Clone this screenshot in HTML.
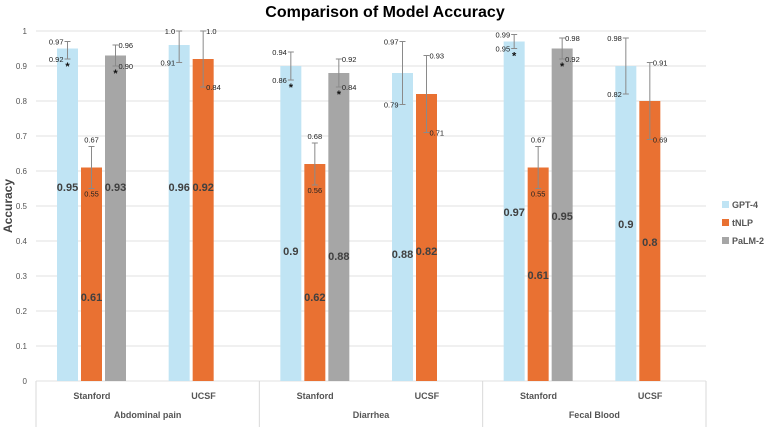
<!DOCTYPE html>
<html><head><meta charset="utf-8"><style>
body{margin:0;background:#fff;font-family:"Liberation Sans",sans-serif}
svg{display:block}
</style></head><body>
<svg id="c" width="767" height="427"></svg>
<script>
const groups=["Abdominal pain","Diarrhea","Fecal Blood"];
const sites=["Stanford","UCSF"];
const seriesNames=["GPT-4","tNLP","PaLM-2"];
const colors=["#c0e4f4","#e97132","#a6a6a6"];
const gpt=[0.95,0.96,0.90,0.88,0.97,0.90];
const tnlp=[0.61,0.92,0.62,0.82,0.61,0.80];
const palm=[0.93,null,0.88,null,0.95,null];
const gptLo=[0.92,0.91,0.86,0.79,0.95,0.82], gptHi=[0.97,1.0,0.94,0.97,0.99,0.98];
const tnlpLo=[0.55,0.84,0.56,0.71,0.55,0.69], tnlpHi=[0.67,1.0,0.68,0.93,0.67,0.91];
const palmLo=[0.90,null,0.84,null,0.92,null], palmHi=[0.96,null,0.92,null,0.98,null];
const gptLab=[0.554,0.554,0.371,0.363,0.483,0.449];
const tnlpLab=[0.24,0.554,0.24,0.371,0.303,0.397];
const palmLab=[0.554,null,0.357,null,0.471,null];
const stars=[[true,false,true,false,true,false],[false,false,false,false,false,false],[true,false,true,false,true,false]];
const loText=[["0.92","0.91","0.86","0.79","0.95","0.82"],["0.55","0.84","0.56","0.71","0.55","0.69"],["0.90","","0.84","","0.92",""]];
const hiText=[["0.97","1.0","0.94","0.97","0.99","0.98"],["0.67","1.0","0.68","0.93","0.67","0.91"],["0.96","","0.92","","0.98",""]];
const yTicks=[0,0.1,0.2,0.3,0.4,0.5,0.6,0.7,0.8,0.9,1];
const yTickLabels=["0","0.1","0.2","0.3","0.4","0.5","0.6","0.7","0.8","0.9","1"];

const NS="http://www.w3.org/2000/svg",svg=document.getElementById('c');
const X0=36,X1=706,Y0=381,Y1=31;
const y=v=>Y0-(v)*(Y0-Y1);
const sub=(X1-X0)/6;
const barX=(i,s)=>X0+i*sub+21+s*24;
function el(t,a,txt){const e=document.createElementNS(NS,t);for(const k in a)e.setAttribute(k,a[k]);if(txt!=null)e.textContent=txt;svg.appendChild(e);return e;}

let e=el('text',{x:385,y:17,'text-anchor':'middle','font-size':16,'font-weight':'bold',fill:'#000'},'Comparison of Model Accuracy');

e=el('text',{x:12,y:206,transform:'rotate(-90 12 206)','text-anchor':'middle','font-size':12,'font-weight':'bold',fill:'#444'},'Accuracy');

yTicks.forEach((t,i)=>{
  e=el('line',{x1:X0,x2:X1,y1:y(t),y2:y(t),stroke:'#e2e2e2'});
  
  e=el('text',{x:27,y:y(t)+3,'text-anchor':'end','font-size':8,fill:'#555'},yTickLabels[i]);
  
});
// category axis
[0,1,2,3].forEach(g=>{e=el('line',{x1:X0+g*2*sub,x2:X0+g*2*sub,y1:Y0,y2:427,stroke:'#d9d9d9'});
 });
for(let i=0;i<6;i++){
 e=el('text',{x:X0+i*sub+sub/2,y:Y0+18,'text-anchor':'middle','font-size':9,'font-weight':'bold',fill:'#555'},sites[i%2]);
 }
groups.forEach((g,i)=>{e=el('text',{x:X0+i*2*sub+sub,y:Y0+37,'text-anchor':'middle','font-size':9,'font-weight':'bold',fill:'#555'},g);
 });

const vals=[gpt,tnlp,palm],los=[gptLo,tnlpLo,palmLo],his=[gptHi,tnlpHi,palmHi],labs=[gptLab,tnlpLab,palmLab];
for(let s=0;s<3;s++)for(let i=0;i<6;i++){
 const v=vals[s][i];if(v==null)continue;
 const bx=barX(i,s),w=21,cx=bx+w/2;
 e=el('rect',{x:bx,y:y(v),width:w,height:Y0-y(v),fill:colors[s]});
 
 e=el('text',{x:cx,y:y(labs[s][i])+4,'text-anchor':'middle','font-size':11,'font-weight':'bold',fill:'#404040'},String(v));
 
 const lo=y(los[s][i]),hi=y(his[s][i]);
 e=el('path',{d:`M${cx},${lo}V${hi}M${cx-3},${lo}H${cx+3}M${cx-3},${hi}H${cx+3}`,stroke:'#8a8a8a','stroke-width':1,fill:'none'});
 
 let anchor,dx,dyH=3,dyL=3;
 if(s===0){anchor='end';dx=-4;} else if(s===1&&i%2===0){anchor='middle';dx=0;dyH=-4;dyL=8;} else {anchor='start';dx=3;}
 e=el('text',{x:cx+dx,y:hi+dyH,'text-anchor':anchor,'font-size':7.5,fill:'#222'},hiText[s][i]);
 
 e=el('text',{x:cx+dx,y:lo+dyL,'text-anchor':anchor,'font-size':7.5,fill:'#222'},loText[s][i]);
 
 if(stars[s][i]){e=el('text',{x:cx,y:lo+11,'text-anchor':'middle','font-size':11,'font-weight':'bold',fill:'#111'},'*');
  }
}
seriesNames.forEach((n,s)=>{
 const ly=206+s*18;
 e=el('rect',{x:722,y:ly-5,width:7,height:7,fill:colors[s]});
 
 e=el('text',{x:732,y:ly+2,'font-size':9,'font-weight':'bold',fill:'#555'},n);
 
});
</script>
</body></html>
